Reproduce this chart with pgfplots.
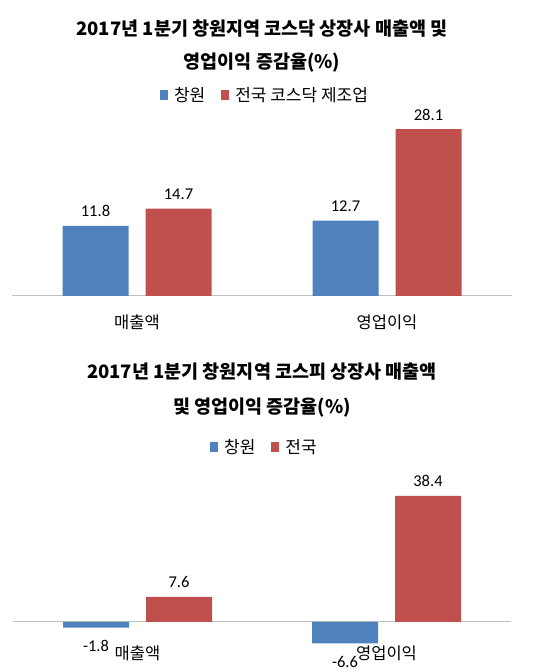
\documentclass[border=0pt]{standalone}
\usepackage{fontspec}
\setmainfont{Noto Sans CJK KR}
\newfontfamily\carlito{Carlito}
\usepackage{pgfplots}
\pgfplotsset{compat=1.18}

\definecolor{cwblue}{HTML}{4F81BD}
\definecolor{nred}{HTML}{C0504D}
\definecolor{zline}{HTML}{BFBFBF}

% shared look of both panels
\pgfplotsset{
  barpanel/.style={
    scale only axis,
    ybar=17bp, bar width=66bp,
    xmin=-0.5, xmax=1.5,
    xtick={0,1}, xticklabels={매출액,영업이익},
    major tick length=0,
    axis line style={draw=none},
    ytick=\empty,
    extra y ticks={0}, extra y tick labels={},
    extra y tick style={grid=major},
    major grid style={draw=zline, line width=1bp},
    clip=false,
    xticklabel style={font=\fontsize{16.5bp}{19bp}\selectfont, anchor=base, inner sep=0pt},
    nodes near coords={\pgfmathprintnumber[fixed, precision=1, fixed zerofill, assume math mode=true]{\pgfplotspointmeta}},
    every node near coord/.append style={font=\carlito\fontsize{16.5bp}{19bp}\selectfont, text=black, inner sep=0pt},
    title style={align=center, font=\bfseries\fontsize{18.5bp}{33bp}\selectfont, anchor=center},
    legend columns=2,
    legend style={draw=none, fill=none, anchor=center,
      font=\fontsize{17bp}{19bp}\selectfont,
      /tikz/every odd column/.append style={column sep=4bp},
      /tikz/every even column/.append style={column sep=14bp},
      inner sep=0pt},
    legend image code/.code={\fill[##1, draw=none] (0bp,-5bp) rectangle (8bp,5bp);},
  },
}

\begin{document}
\begin{tikzpicture}
\path[use as bounding box] (0,0) rectangle (543bp,672bp);

% top panel: KOSDAQ
\begin{axis}[
  barpanel,
  at={(12bp,376bp)}, anchor=south west,
  width=500bp, height=184bp,
  ymin=0, ymax=31,
  xticklabel style={yshift=-33bp},
  title={2017년 1분기 창원지역 코스닥 상장사 매출액 및\\영업이익 증감율(\%)},
  title style={at={(0.5,1.328)}},
  legend style={at={(0.506,1.092)}},
]
\addplot[fill=cwblue, draw=none, every node near coord/.append style={anchor=base, yshift=9bp}]
  coordinates {(0,11.8) (1,12.7)};
\addplot[fill=nred, draw=none, every node near coord/.append style={anchor=base, yshift=9bp}]
  coordinates {(0,14.7) (1,28.1)};
\legend{창원,전국 코스닥 제조업}
\end{axis}

% bottom panel: KOSPI
\begin{axis}[
  barpanel,
  at={(13bp,24bp)}, anchor=south west,
  width=498bp, height=164bp,
  ymin=-8, ymax=42,
  xticklabel style={yshift=-11bp},
  title={2017년 1분기 창원지역 코스피 상장사 매출액\\및 영업이익 증감율(\%)},
  title style={at={(0.5,1.536)}, font=\bfseries\fontsize{18.5bp}{35bp}\selectfont},
  legend style={at={(0.505,1.226)}},
]
\addplot[fill=cwblue, draw=none, every node near coord/.append style={anchor=base, yshift=-24bp}]
  coordinates {(0,-1.8) (1,-6.6)};
\addplot[fill=nred, draw=none, every node near coord/.append style={anchor=base, yshift=9bp}]
  coordinates {(0,7.6) (1,38.4)};
\legend{창원,전국}
\end{axis}
\end{tikzpicture}
\end{document}
